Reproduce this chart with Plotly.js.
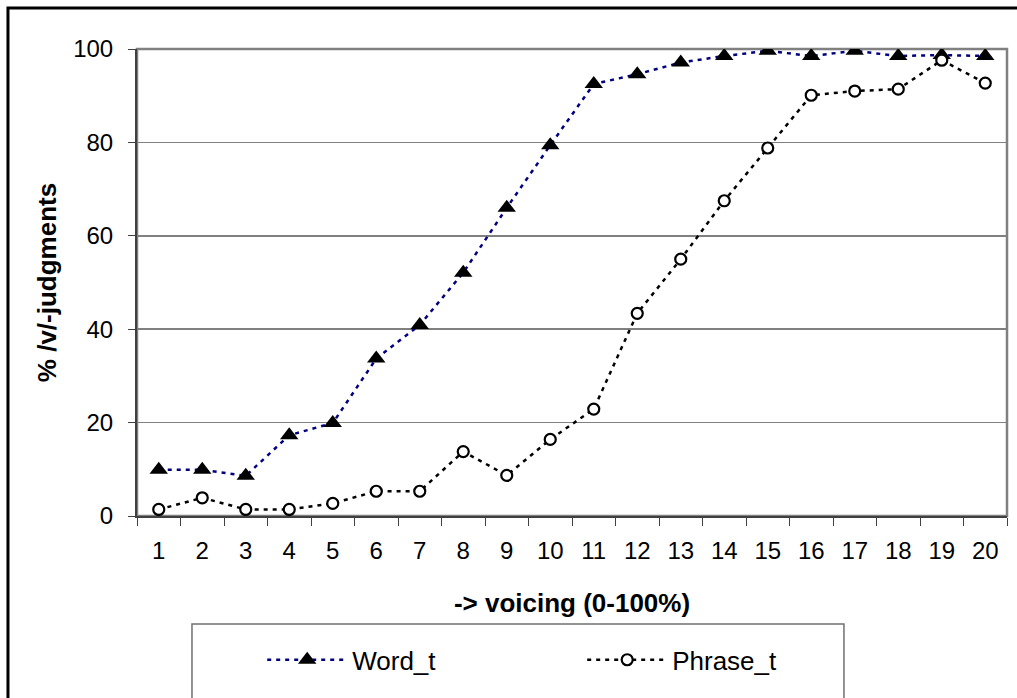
<!DOCTYPE html>
<html>
<head>
<meta charset="utf-8">
<script src="https://cdn.plot.ly/plotly-3.0.1.min.js"></script>
<style>
html,body{margin:0;padding:0;background:#fff;overflow:hidden;}
#chart{width:1017px;height:698px;}
</style>
</head>
<body>
<div id="chart"></div>
<script>
// Data
var steps = ['1','2','3','4','5','6','7','8','9','10','11','12','13','14','15','16','17','18','19','20'];
var wordT = [9.9, 9.9, 8.6, 17.3, 19.9, 33.7, 40.9, 52.1, 66.0, 79.4, 92.5, 94.6, 97.1, 98.5, 99.6, 98.5, 99.6, 98.5, 98.7, 98.5];
var phraseT = [1.4, 3.9, 1.4, 1.4, 2.7, 5.3, 5.3, 13.8, 8.7, 16.4, 22.9, 43.4, 55.0, 67.5, 78.8, 90.1, 91.0, 91.4, 97.6, 92.7];
var yTicks = [0, 20, 40, 60, 80, 100];

var FONT = '"Liberation Sans", Arial, sans-serif';

var traces = [
  {
    x: steps, y: wordT, name: 'Word_t', type: 'scatter', mode: 'lines+markers',
    line: {color: '#000080', width: 2.5, dash: '4px,5px'},
    marker: {symbol: 'triangle-up', size: 16, color: '#000000', line: {width: 0}}
  },
  {
    x: steps, y: phraseT, name: 'Phrase_t', type: 'scatter', mode: 'lines+markers',
    line: {color: '#000000', width: 2.5, dash: '4px,5px'},
    marker: {symbol: 'circle', size: 11, color: '#ffffff', line: {width: 2.2, color: '#000000'}}
  }
];

var layout = {
  width: 1017, height: 698,
  margin: {l: 137, r: 10, t: 49, b: 182, autoexpand: false},
  paper_bgcolor: '#ffffff', plot_bgcolor: '#ffffff',
  font: {family: FONT, size: 24, color: '#000000'},
  showlegend: true,
  legend: {
    orientation: 'h', x: 0.1439, xanchor: 'left', y: -0.308, yanchor: 'middle',
    font: {family: FONT, size: 26, color: '#000000'},
    itemwidth: 80, entrywidth: 225, entrywidthmode: 'pixels',
    bgcolor: 'rgba(0,0,0,0)', borderwidth: 0, traceorder: 'normal'
  },
  xaxis: {
    type: 'category', categoryorder: 'array', categoryarray: steps,
    range: [-0.5, 19.5], autorange: false,
    tickson: 'boundaries', ticks: 'outside', ticklen: 8, tickwidth: 1, tickcolor: '#404040',
    showline: true, linecolor: '#404040', linewidth: 2, showgrid: false, zeroline: false,
    tickfont: {family: FONT, size: 24, color: '#000000'}, ticklabelstandoff: 12,
    title: {text: '-> voicing (0-100%)', font: {family: FONT, size: 26, color: '#000000', weight: 'bold'}, standoff: 31}
  },
  yaxis: {
    range: [0, 100], autorange: false, tickvals: yTicks, ticktext: yTicks.map(String),
    ticks: 'outside', ticklen: 7, tickwidth: 1, tickcolor: '#404040',
    showline: true, linecolor: '#404040', linewidth: 2,
    showgrid: true, gridcolor: '#808080', gridwidth: 1.5, zeroline: false,
    tickfont: {family: FONT, size: 24, color: '#000000'}, ticklabelstandoff: 10,
    title: {text: '% /v/-judgments', font: {family: FONT, size: 26, color: '#000000', weight: 'bold'}, standoff: 9}
  },
  shapes: [
    // plot area border (top/right)
    {type: 'rect', xref: 'paper', yref: 'paper', x0: 0, x1: 1, y0: 0, y1: 1,
     line: {color: '#808080', width: 2.5}, layer: 'below'},
    // legend frame
    {type: 'rect', xref: 'paper', yref: 'paper', x0: 0.0632, x1: 0.8126, y0: -0.5, y1: -0.2313,
     line: {color: '#707070', width: 1.5}, fillcolor: 'rgba(0,0,0,0)'},
    // outer chart frame
    {type: 'rect', xref: 'paper', yref: 'paper', x0: -0.1483, x1: 1.05, y0: -0.5, y1: 1.0878,
     line: {color: '#000000', width: 3}, fillcolor: 'rgba(0,0,0,0)'}
  ]
};

Plotly.newPlot('chart', traces, layout, {displayModeBar: false, staticPlot: true});
</script>
</body>
</html>
